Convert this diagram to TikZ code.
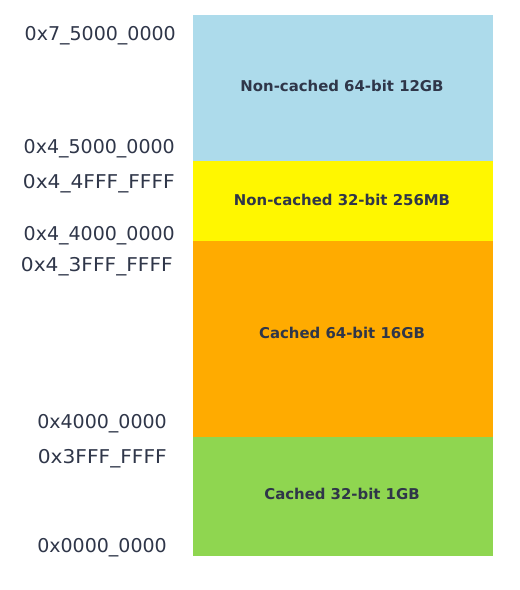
\documentclass[tikz,border=0pt]{standalone}
\usepackage{fontspec}
\setmainfont{DejaVu Sans}
\definecolor{txt}{HTML}{2F3649}
\definecolor{cblue}{HTML}{ADDBEB}
\definecolor{cyellow}{HTML}{FFF700}
\definecolor{corange}{HTML}{FFAB00}
\definecolor{cgreen}{HTML}{8FD650}
\newcommand{\wideF}[1]{\scalebox{1.062}[1]{#1}}
\tikzset{
  memblock/.style={draw=none, inner sep=0pt, minimum width=300pt, anchor=north west},
  addrlabel/.style={anchor=base east, inner sep=0pt, text=txt, font=\fontsize{19}{22}\selectfont},
  blocklabel/.style={anchor=base, inner sep=0pt, text=txt, font=\fontsize{14.9}{18}\selectfont\bfseries},
}
\begin{document}
\begin{tikzpicture}[x=1pt,y=-1pt]
\useasboundingbox[fill=white] (0,0) rectangle (520,590);
\node[memblock, fill=cblue, minimum height=146pt] (b1) at (193,15) {};
\node[memblock, fill=cyellow, minimum height=80pt] (b2) at (193,161) {};
\node[memblock, fill=corange, minimum height=196pt] (b3) at (193,241) {};
\node[memblock, fill=cgreen, minimum height=119pt] (b4) at (193,437) {};
\node[blocklabel] (t1) at (342,91) {Non-cached 64-bit 12GB};
\node[blocklabel] (t2) at (342,205) {Non-cached 32-bit 256MB};
\node[blocklabel] (t3) at (342,338) {Cached 64-bit 16GB};
\node[blocklabel] (t4) at (342,499) {Cached 32-bit 1GB};
\node[addrlabel] (a1) at (176,40) {0x7\_5000\_0000};
\node[addrlabel] (a2) at (175,153) {0x4\_5000\_0000};
\node[addrlabel] (a3) at (175,188) {\wideF{0x4\_4FFF\_FFFF}};
\node[addrlabel] (a4) at (175,240) {0x4\_4000\_0000};
\node[addrlabel] (a5) at (173,271) {\wideF{0x4\_3FFF\_FFFF}};
\node[addrlabel] (a6) at (167,428) {0x4000\_0000};
\node[addrlabel] (a7) at (167,463) {\wideF{0x3FFF\_FFFF}};
\node[addrlabel] (a8) at (167,552) {0x0000\_0000};
\end{tikzpicture}
\end{document}
